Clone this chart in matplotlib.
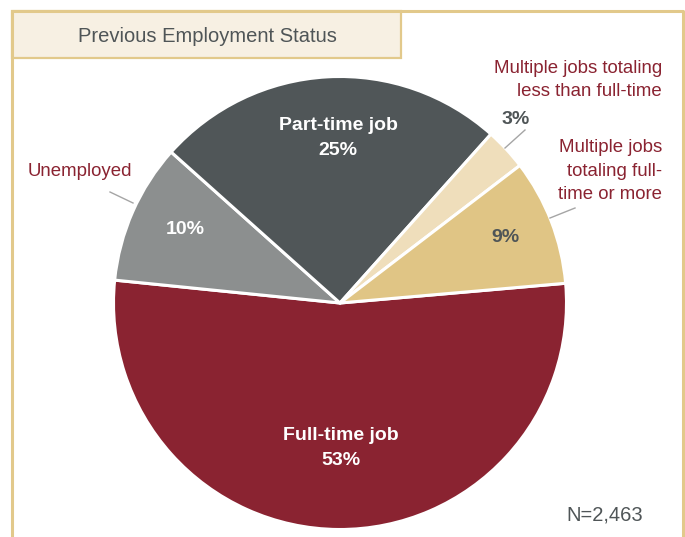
import matplotlib.pyplot as plt
from matplotlib.patches import Rectangle

# Slices, clockwise from the right side
labels = ['Full-time job', 'Unemployed', 'Part-time job',
          'Multiple jobs totaling less than full-time',
          'Multiple jobs totaling full-time or more']
shares = [53, 10, 25, 3, 9]
colors = ['#8a2331', '#8c8f8f', '#505658', '#efdebb', '#e0c585']
n_total = '2,463'

fonts = ['Liberation Sans Narrow', 'Liberation Sans', 'DejaVu Sans']
red = '#8a2331'
dark = '#4f5557'
tan = '#e2c98b'

fig = plt.figure(figsize=(6.85, 5.37), dpi=100)
ax = fig.add_axes([0, 0, 1, 1])
H = 537

def Y(y):
    return H - y

# Frame and title box
ax.plot([12.5, 12.5, 683, 683], [0, Y(10.5), Y(10.5), 0], color=tan, lw=2.2)
ax.add_patch(Rectangle((12.5, Y(58)), 389, 47.5, facecolor='#f7f0e3',
                       edgecolor=tan, lw=1.6))
ax.text(207, Y(36), 'Previous Employment Status', ha='center', va='center',
        fontsize=14.5, color=dark, family=fonts)

# Pie
cx, cy, r = 340, Y(303), 226.5
ax.pie(shares, colors=colors, startangle=5, counterclock=False,
       center=(cx, cy), radius=r, frame=True,
       wedgeprops=dict(edgecolor='white', linewidth=2.2))

ax.set_xlim(0, 685)
ax.set_ylim(0, H)
ax.set_aspect('equal')
ax.axis('off')

# Labels inside slices
bold = dict(ha='center', va='center', fontsize=14, fontweight='bold',
            family=fonts, linespacing=1.6)
ax.text(341, Y(448), 'Full-time job\n53%', color='white', **bold)
ax.text(338, Y(138), 'Part-time job\n25%', color='white', **bold)
ax.text(185, Y(230), '10%', color='white', **bold)
ax.text(505, Y(237), '9%', color=dark, **bold)
ax.text(516, Y(120), '3%', color=dark, **bold)

# Outside labels
side = dict(fontsize=13.4, color=red, family=fonts, linespacing=1.5)
ax.text(80, Y(171), 'Unemployed', ha='center', va='center', **side)
ax.text(662, Y(80), 'Multiple jobs totaling\nless than full-time',
        ha='right', va='center', **side)
ax.text(662, Y(171), 'Multiple jobs\ntotaling full-\ntime or more',
        ha='right', va='center', **side)

# Leader lines
ax.plot([110, 133], [Y(192), Y(203)], color='#a5a5a5', lw=1)
ax.plot([525, 505], [Y(130), Y(148)], color='#a5a5a5', lw=1)
ax.plot([575, 550], [Y(208), Y(218)], color='#a5a5a5', lw=1)

ax.text(605, Y(515), 'N=' + n_total, ha='center', va='center',
        fontsize=14.5, color=dark, family=fonts)

plt.savefig('out.png', dpi=100)
